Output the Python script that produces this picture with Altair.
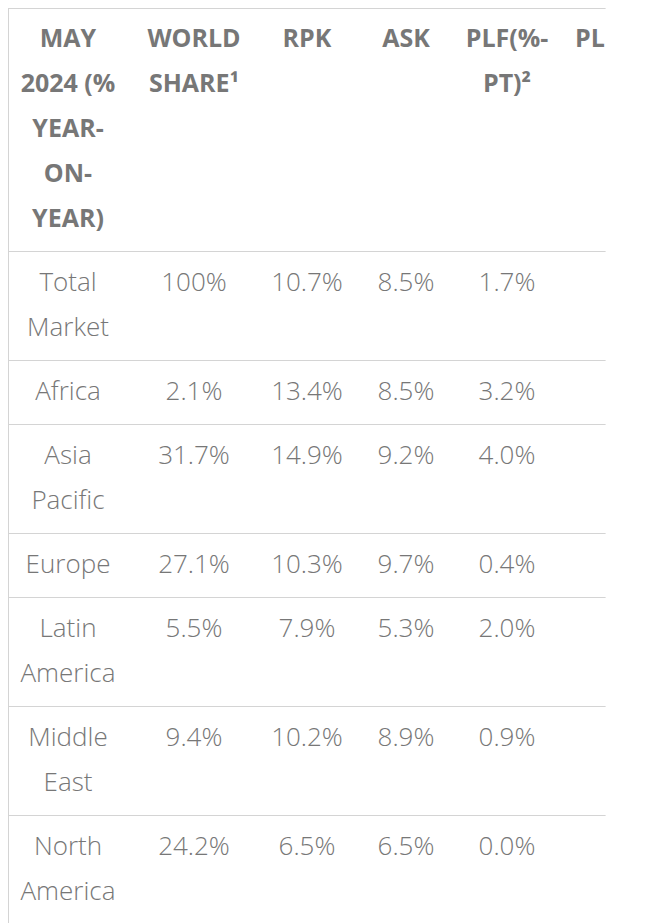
import altair as alt
import pandas as pd

# ---- table content -------------------------------------------------------
header_lines = [
    ["MAY", "2024 (%", "YEAR-", "ON-", "YEAR)"],
    ["WORLD", "SHARE¹"],
    ["RPK"],
    ["ASK"],
    ["PLF(%-", "PT)²"],
    ["PL"],
]
regions = [
    ["Total", "Market"],
    ["Africa"],
    ["Asia", "Pacific"],
    ["Europe"],
    ["Latin", "America"],
    ["Middle", "East"],
    ["North", "America"],
]
world_share = ["100%", "2.1%", "31.7%", "27.1%", "5.5%", "9.4%", "24.2%"]
rpk = ["10.7%", "13.4%", "14.9%", "10.3%", "7.9%", "10.2%", "6.5%"]
ask = ["8.5%", "8.5%", "9.2%", "9.7%", "5.3%", "8.9%", "6.5%"]
plf = ["1.7%", "3.2%", "4.0%", "0.4%", "2.0%", "0.9%", "0.0%"]

# ---- layout (pixels) -----------------------------------------------------
W, H = 631, 915
LINE = 45
PAD = 9.5
TOP = -1
col_x = [60, 186, 299, 398, 499, 567]
col_align = ["center", "center", "center", "center", "center", "left"]
table_right = 597.6

head_rows, body_rows, rules = [], [], []
y = TOP
rules.append({"y": 0.5})
for c, lines in enumerate(header_lines):
    for i, t in enumerate(lines):
        head_rows.append({"t": t, "x": col_x[c], "y": y + PAD + LINE / 2 + LINE * i,
                          "align": col_align[c]})
y += PAD * 2 + LINE * max(len(l) for l in header_lines)
rules.append({"y": y + 0.5})
for r, reg in enumerate(regions):
    cells = [reg, [world_share[r]], [rpk[r]], [ask[r]], [plf[r]]]
    for c, lines in enumerate(cells):
        for i, t in enumerate(lines):
            body_rows.append({"t": t, "x": col_x[c], "y": y + PAD + LINE / 2 + LINE * i})
    y += PAD * 2 + LINE * max(len(l) for l in cells)
    rules.append({"y": y + 0.5})

head = pd.DataFrame(head_rows)
body = pd.DataFrame(body_rows)
rl = pd.DataFrame(rules)
rl["x"] = 0
rl["x2"] = table_right

xs = alt.Scale(domain=[0, W], range=[0, W])
ys = alt.Scale(domain=[0, H], range=[0, H])
FONT = "Open Sans"
GRAY = "#777777"
LINEC = "#d4d4d4"

hlines = alt.Chart(rl).mark_rule(color=LINEC, strokeWidth=1).encode(
    x=alt.X("x:Q", scale=xs, axis=None),
    x2="x2:Q",
    y=alt.Y("y:Q", scale=ys, axis=None),
)
vline = alt.Chart(pd.DataFrame({"x": [0.5], "y": [0.5], "y2": [H]})).mark_rule(
    color=LINEC, strokeWidth=1
).encode(
    x=alt.X("x:Q", scale=xs, axis=None),
    y=alt.Y("y:Q", scale=ys, axis=None),
    y2="y2:Q",
)

head_c = alt.Chart(head[head["align"] == "center"]).mark_text(
    font=FONT, fontSize=25, fontWeight="bold", color=GRAY, align="center", baseline="middle"
).encode(
    x=alt.X("x:Q", scale=xs, axis=None),
    y=alt.Y("y:Q", scale=ys, axis=None),
    text="t:N",
)
head_l = alt.Chart(head[head["align"] == "left"]).mark_text(
    font=FONT, fontSize=25, fontWeight="bold", color=GRAY, align="left", baseline="middle"
).encode(
    x=alt.X("x:Q", scale=xs, axis=None),
    y=alt.Y("y:Q", scale=ys, axis=None),
    text="t:N",
)
body_t = alt.Chart(body).mark_text(
    font=FONT, fontSize=26, fontWeight=300, color=GRAY, align="center", baseline="middle"
).encode(
    x=alt.X("x:Q", scale=xs, axis=None),
    y=alt.Y("y:Q", scale=ys, axis=None),
    text="t:N",
)

chart = alt.layer(hlines, vline, head_c, head_l, body_t).properties(
    width=W, height=H, autosize=alt.AutoSizeParams(type="none"), padding=0,
    background="white",
).configure_view(stroke=None)

chart.save("out.html", embed_options={"renderer": "svg", "actions": False})
